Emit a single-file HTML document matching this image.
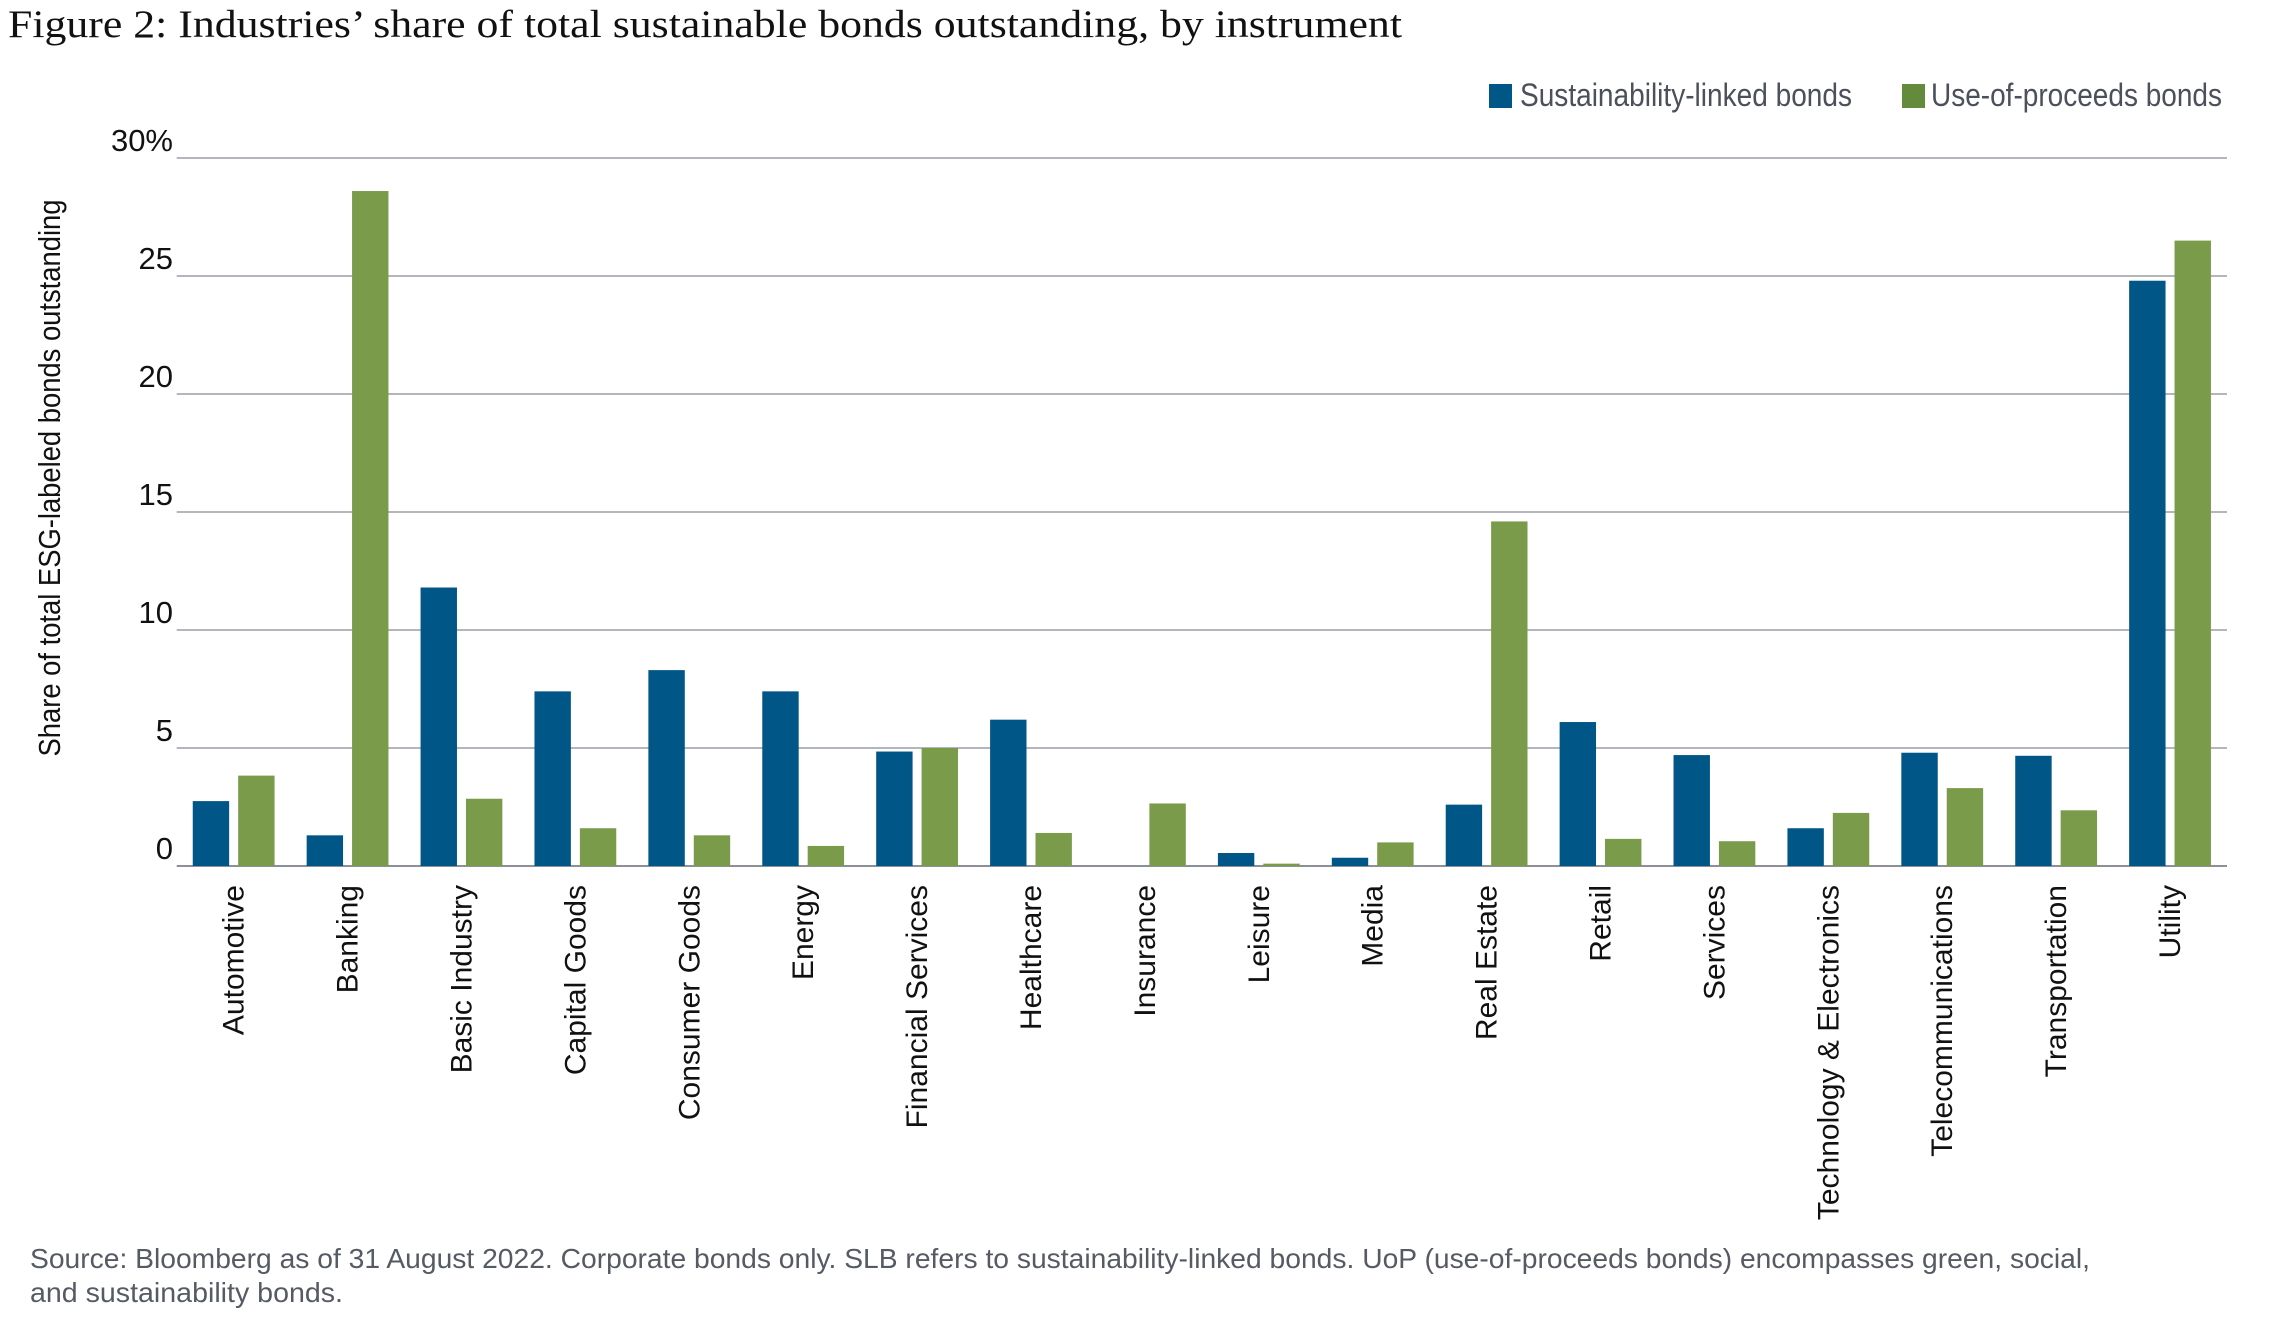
<!DOCTYPE html>
<html><head><meta charset="utf-8"><style>
html,body{margin:0;padding:0;background:#fff;}
svg{display:block;}
</style></head><body>
<svg id="chart" width="2292" height="1333" viewBox="0 0 2292 1333" xmlns="http://www.w3.org/2000/svg">
<text x="8" y="37" font-family="Liberation Serif, serif" font-size="39" fill="#111" textLength="1394" lengthAdjust="spacingAndGlyphs">Figure 2: Industries’ share of total sustainable bonds outstanding, by instrument</text>
<g>
<rect x="1489" y="84" width="23" height="24" fill="#005686"/>
<text x="1520" y="106" font-family="Liberation Sans Narrow, Liberation Sans, sans-serif" font-size="32" fill="#4b505b" textLength="332" lengthAdjust="spacingAndGlyphs">Sustainability-linked bonds</text>
<rect x="1902" y="84" width="23" height="24" fill="#648a3c"/>
<text x="1931" y="106" font-family="Liberation Sans Narrow, Liberation Sans, sans-serif" font-size="32" fill="#4b505b" textLength="291" lengthAdjust="spacingAndGlyphs">Use-of-proceeds bonds</text>
</g>
<text transform="translate(60,478) rotate(-90)" text-anchor="middle" font-family="Liberation Sans Narrow, Liberation Sans, sans-serif" font-size="31" fill="#111" textLength="557" lengthAdjust="spacingAndGlyphs">Share of total ESG-labeled bonds outstanding</text>
<g id="grid"></g>
<g id="bars"></g>
<g id="xlabels"></g>
<text x="30" y="1268" font-family="Liberation Sans, sans-serif" font-size="28" fill="#555a63" textLength="2060" lengthAdjust="spacingAndGlyphs">Source: Bloomberg as of 31 August 2022. Corporate bonds only. SLB refers to sustainability-linked bonds. UoP (use-of-proceeds bonds) encompasses green, social,</text>
<text x="30" y="1302" font-family="Liberation Sans, sans-serif" font-size="28" fill="#555a63" textLength="313" lengthAdjust="spacingAndGlyphs">and sustainability bonds.</text>
</svg>
<script>
const categories = ["Automotive","Banking","Basic Industry","Capital Goods","Consumer Goods","Energy","Financial Services","Healthcare","Insurance","Leisure","Media","Real Estate","Retail","Services","Technology & Electronics","Telecommunications","Transportation","Utility"];
const slbValues = [2.75,1.3,11.8,7.4,8.3,7.4,4.85,6.2,0,0.55,0.35,2.6,6.1,4.7,1.6,4.8,4.67,24.8];
const uopValues = [3.83,28.6,2.85,1.6,1.3,0.85,5.0,1.4,2.65,0.1,1.0,14.6,1.15,1.05,2.25,3.3,2.36,26.5];
const yTicks = [0,5,10,15,20,25,30];
const yTickLabels = ["0","5","10","15","20","25","30%"];

const NS = "http://www.w3.org/2000/svg";
const plotL = 176.7, plotR = 2227, y0 = 866, yTop = 158, yMax = 30;
const band = (plotR - plotL) / categories.length;
const barW = 36.4, gap = 9;
function yScale(v){ return y0 - (y0 - yTop) * v / yMax; }
function xBand(i){ return plotL + i * band; }
function mk(tag, attrs){ const e = document.createElementNS(NS, tag); for (const k in attrs) e.setAttribute(k, attrs[k]); return e; }

const grid = document.getElementById('grid');
yTicks.forEach((t, i) => {
  const y = yScale(t);
  const line = mk('line', {x1: plotL, x2: plotR, y1: y, y2: y, stroke: i === 0 ? '#8e9097' : '#b4b6bd', 'stroke-width': 2});
  
  
  grid.appendChild(line);
  const lab = mk('text', {x: 173, y: y - 7, 'text-anchor': 'end', 'font-family': 'Liberation Sans Narrow, Liberation Sans, sans-serif', 'font-size': 31, fill: '#111'});
  
  
  lab.textContent = yTickLabels[i];
  grid.appendChild(lab);
});

const bars = document.getElementById('bars');
const xl = document.getElementById('xlabels');
const pad = (band - (2 * barW + gap)) / 2;
categories.forEach((c, i) => {
  const bx = xBand(i) + pad;
  const ys = yScale(slbValues[i]);
  if (slbValues[i] > 0) {
    const r = mk('rect', {x: bx, y: ys, width: barW, height: y0 - ys, fill: '#005686'});
    
    
    bars.appendChild(r);
  }
  const yu = yScale(uopValues[i]);
  const r2 = mk('rect', {x: bx + barW + gap, y: yu, width: barW, height: y0 - yu, fill: '#7a9b49'});
  
  
  bars.appendChild(r2);
  const cx = xBand(i) + band / 2 + 10;
  const t = mk('text', {transform: 'translate(' + cx + ',885) rotate(-90)', 'text-anchor': 'end', 'font-family': 'Liberation Sans Narrow, Liberation Sans, sans-serif', 'font-size': 30, fill: '#111'});
  
  
  t.textContent = c;
  xl.appendChild(t);
});
</script>
</body></html>
